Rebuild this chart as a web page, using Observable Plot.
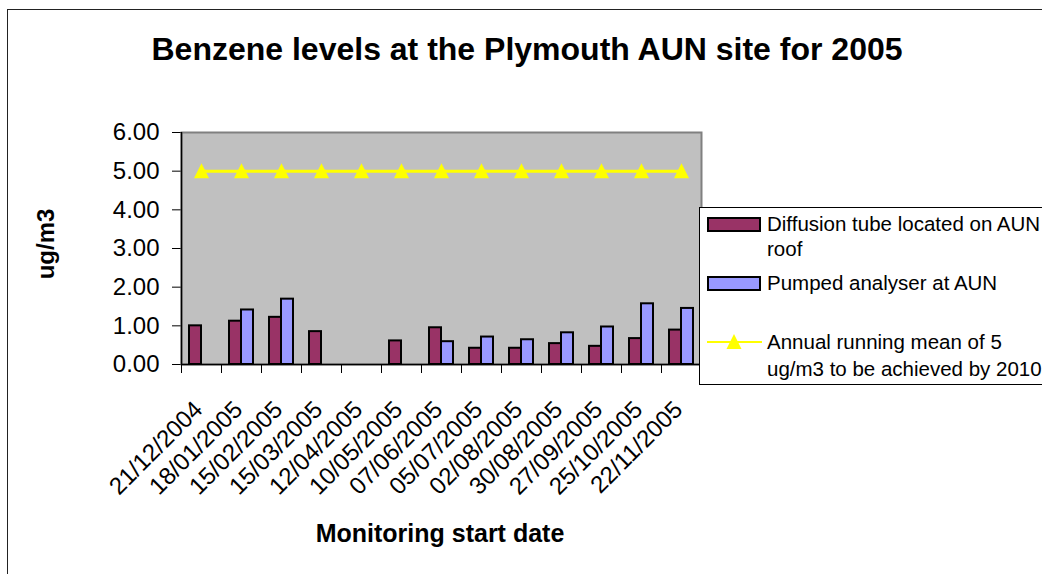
<!DOCTYPE html>
<html>
<head>
<meta charset="utf-8">
<script src="https://cdn.jsdelivr.net/npm/d3@7"></script>
<script src="https://cdn.jsdelivr.net/npm/@observablehq/plot@0.6"></script>
<style>
  html, body { margin: 0; padding: 0; background: #fff; }
  #wrap { position: relative; width: 1042px; height: 574px; overflow: hidden; font-family: "Liberation Sans", Arial, sans-serif; }
  #wrap svg { position: absolute; left: 0; top: 0; }
  #border { position: absolute; left: 7px; top: 9px; width: 1100px; height: 700px; border-left: 1.5px solid #222; border-top: 1.5px solid #222; }
</style>
</head>
<body>
<div id="wrap"><div id="border"></div></div>
<script>
const dates = ["21/12/2004","18/01/2005","15/02/2005","15/03/2005","12/04/2005","10/05/2005","07/06/2005","05/07/2005","02/08/2005","30/08/2005","27/09/2005","25/10/2005","22/11/2005"];
const diffusion = [1.00, 1.12, 1.22, 0.85, null, 0.61, 0.95, 0.42, 0.42, 0.54, 0.47, 0.67, 0.89];
const pumped = [null, 1.41, 1.69, null, null, null, 0.59, 0.71, 0.64, 0.82, 0.97, 1.57, 1.45];
const target = [5, 5, 5, 5, 5, 5, 5, 5, 5, 5, 5, 5, 5];
const yTicks = [0, 1, 2, 3, 4, 5, 6];
const colors = ["#993366", "#9999FF", "#FFFF00"];

const rows = dates.map((d, i) => ({date: d, diffusion: diffusion[i], pumped: pumped[i], target: target[i]}));

const font = '"Liberation Sans", Arial, sans-serif';

// Excel-style marker triangle (slightly taller than wide, centred on the value)
const excelTriangle = {
  draw(context) {
    context.moveTo(0, -8);
    context.lineTo(7.5, 7);
    context.lineTo(-7.5, 7);
    context.closePath();
  }
};

const chart = Plot.plot({
  width: 1042,
  height: 574,
  marginLeft: 181,
  marginRight: 341,
  marginTop: 132,
  marginBottom: 210,
  style: {fontFamily: font, fontSize: "24px", color: "#000", background: "transparent"},
  x: {type: "band", domain: dates, paddingInner: 0.7, paddingOuter: 0.35, axis: null},
  y: {domain: [0, 6], ticks: yTicks, tickFormat: d3.format(".2f"), tickSize: 9, tickPadding: 13, label: null, line: true},
  marks: [
    Plot.frame({fill: "#C0C0C0", stroke: "#808080", strokeWidth: 2}),
    Plot.barY(rows.filter(r => r.diffusion != null), {x: "date", y: "diffusion", dx: -6, fill: colors[0], stroke: "#000", strokeWidth: 2}),
    Plot.barY(rows.filter(r => r.pumped != null), {x: "date", y: "pumped", dx: 6, fill: colors[1], stroke: "#000", strokeWidth: 2}),
    Plot.lineY(rows, {x: "date", y: "target", stroke: colors[2], strokeWidth: 3}),
    Plot.dot(rows, {x: "date", y: "target", symbol: excelTriangle, r: 6, fill: colors[2], stroke: null}),
    Plot.ruleY([0], {stroke: "#000", strokeWidth: 1.5}),
    Plot.ruleX([dates[0]], {x: d => d, dx: -20, stroke: "#000", strokeWidth: 1.5}),
    Plot.ruleX(dates, {x: d => d, dx: -20, y1: 0, y2: 0, insetBottom: -9, stroke: "#000", strokeWidth: 1}),
    Plot.text(dates, {x: d => d, frameAnchor: "bottom", rotate: -45, textAnchor: "end", lineAnchor: "middle", dx: -3, dy: 41, fontSize: 24, fill: "#000"})
  ]
});
document.getElementById("wrap").appendChild(chart);

// Overlay: title, axis titles and legend
const ov = d3.select("#wrap").append("svg").attr("width", 1042).attr("height", 574)
  .style("font-family", font);
ov.append("text").attr("x", 527).attr("y", 60).attr("text-anchor", "middle")
  .attr("font-size", 32).attr("font-weight", "bold").text("Benzene levels at the Plymouth AUN site for 2005");
ov.append("text").attr("x", 440).attr("y", 542).attr("text-anchor", "middle")
  .attr("font-size", 25).attr("font-weight", "bold").text("Monitoring start date");
ov.append("text").attr("transform", "translate(54,244) rotate(-90)").attr("text-anchor", "middle")
  .attr("font-size", 24).attr("font-weight", "bold").text("ug/m3");

const lg = ov.append("g");
lg.append("rect").attr("x", 699.5).attr("y", 207.5).attr("width", 360).attr("height", 177).attr("fill", "#fff").attr("stroke", "#000").attr("stroke-width", 1);
lg.append("rect").attr("x", 708).attr("y", 218).attr("width", 52).attr("height", 13).attr("fill", colors[0]).attr("stroke", "#000").attr("stroke-width", 2);
lg.append("rect").attr("x", 708).attr("y", 277).attr("width", 52).attr("height", 13).attr("fill", colors[1]).attr("stroke", "#000").attr("stroke-width", 2);
lg.append("line").attr("x1", 707).attr("x2", 762).attr("y1", 342).attr("y2", 342).attr("stroke", colors[2]).attr("stroke-width", 2);
lg.append("path").attr("d", "M0,-8L7.5,7L-7.5,7Z").attr("transform", "translate(734,342)").attr("fill", colors[2]);
const lt = [["Diffusion tube located on AUN", 231], ["roof", 256], ["Pumped analyser at AUN", 290], ["Annual running mean of 5", 349], ["ug/m3 to be achieved by 2010", 376]];
lt.forEach(([t, y]) => lg.append("text").attr("x", 767).attr("y", y).attr("font-size", 20.5).text(t));
</script>
</body>
</html>
